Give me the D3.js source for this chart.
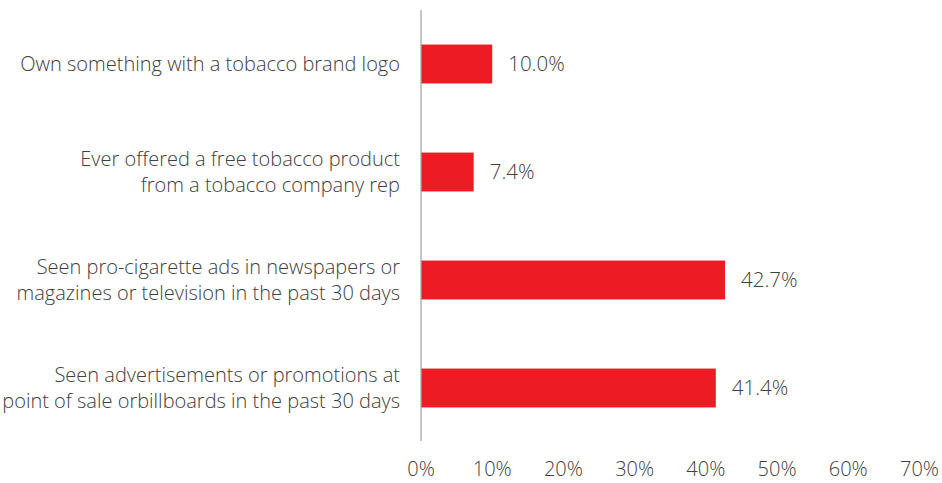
<!DOCTYPE html>
<html>
<head>
<meta charset="utf-8">
<script src="https://cdn.jsdelivr.net/npm/d3@7"></script>
<style>
  body { margin: 0; background: #fff; }
  text { font-family: "Open Sans", "Noto Sans", sans-serif; fill: #404040; font-weight: 300; }
</style>
</head>
<body>
<div id="chart"></div>
<script>
const categories = [
  ["Own something with a tobacco brand logo"],
  ["Ever offered a free tobacco product", "from a tobacco company rep"],
  ["Seen pro-cigarette ads in newspapers or", "magazines or television in the past 30 days"],
  ["Seen advertisements or promotions at", "point of sale orbillboards in the past 30 days"]
];
const values = [10.0, 7.4, 42.7, 41.4];
const tickValues = [0, 10, 20, 30, 40, 50, 60, 70];

const width = 942, height = 483;
const axisX = 421;

const svg = d3.select("#chart").append("svg")
  .attr("width", width)
  .attr("height", height);

const x = d3.scaleLinear().domain([0, 70]).range([axisX, 919.5]);
const y = d3.scaleBand()
  .domain(d3.range(categories.length))
  .range([10, 442])
  .paddingInner(0.64)
  .paddingOuter(0.32);

// bars
svg.selectAll("rect.bar")
  .data(values)
  .enter()
  .append("rect")
  .attr("class", "bar")
  .attr("x", x(0))
  .attr("y", (d, i) => y(i))
  .attr("width", d => x(d) - x(0))
  .attr("height", y.bandwidth())
  .attr("fill", "#ed1c24");

// value labels
svg.selectAll("text.val")
  .data(values)
  .enter()
  .append("text")
  .attr("class", "val")
  .attr("x", d => x(d) + 16)
  .attr("y", (d, i) => y(i) + y.bandwidth() / 2)
  .attr("dy", "0.35em")
  .style("font-size", "20.5px")
  .text(d => d.toFixed(1) + "%");

// vertical axis line
svg.append("line")
  .attr("x1", axisX).attr("x2", axisX)
  .attr("y1", 10).attr("y2", 441)
  .attr("stroke", "#a6a6a6")
  .attr("stroke-width", 1.3);

// category labels
const labels = svg.selectAll("text.cat")
  .data(categories)
  .enter()
  .append("text")
  .attr("class", "cat")
  .attr("text-anchor", "end")
  .style("font-size", "20px")
  .attr("transform", (d, i) => `translate(400,${y(i) + y.bandwidth() / 2})`);

labels.selectAll("tspan")
  .data(d => d.map((t, j) => ({ t, j, n: d.length })))
  .enter()
  .append("tspan")
  .attr("x", 0)
  .attr("y", d => (d.j - (d.n - 1) / 2) * 26)
  .attr("dy", "0.35em")
  .text(d => d.t);

// x tick labels
svg.selectAll("text.tick")
  .data(tickValues)
  .enter()
  .append("text")
  .attr("class", "tick")
  .attr("x", d => x(d))
  .attr("y", 476)
  .attr("text-anchor", "middle")
  .style("font-size", "20px")
  .text(d => d + "%");
</script>
</body>
</html>
